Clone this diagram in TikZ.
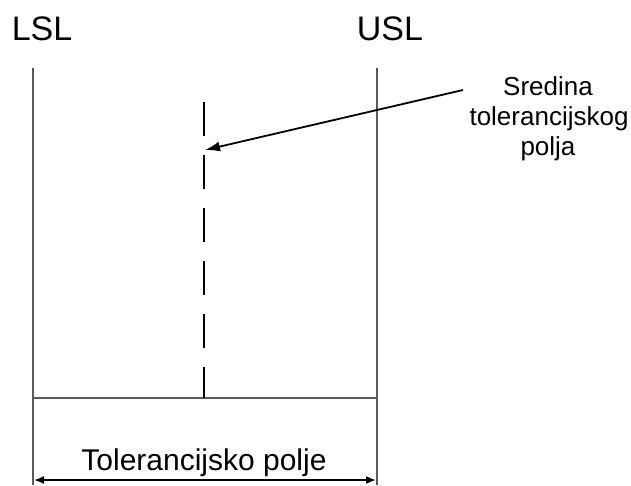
\documentclass[tikz,border=0pt]{standalone}
\usepackage{fontspec}
\setmainfont{Liberation Sans}
\usetikzlibrary{arrows.meta}
\begin{document}
\begin{tikzpicture}[x=1pt,y=-1pt,
  limit/.style={draw=black!65, line width=2pt},
  base/.style={draw=black!65, line width=2pt},
  centerline/.style={draw=black, line width=2pt, dash pattern=on 34pt off 19pt},
  pointer/.style={draw=black, line width=1.8pt, -{Latex[length=15pt,width=10pt]}},
  span/.style={draw=black, line width=1.6pt, {Latex[length=10pt,width=8pt]}-{Latex[length=10pt,width=8pt]}},
  lbl/.style={inner sep=0pt, anchor=base}]
\useasboundingbox (0,0) rectangle (631,485);
% coordinates
\coordinate (lt) at (33,68);
\coordinate (lb) at (33,485);
\coordinate (rt) at (377,68);
\coordinate (rb) at (377,485);
\coordinate (hl) at (33,398);
\coordinate (hr) at (377,398);
\coordinate (ct) at (204,102);
\coordinate (cb) at (204,398);
\coordinate (al) at (34,480);
\coordinate (ar) at (376,480);
\coordinate (ps) at (463,90);
\coordinate (pe) at (205,150);
% labels
\node[lbl, font=\fontsize{34}{40}\selectfont] (lsl) at (42,40) {LSL};
\node[lbl, font=\fontsize{34}{40}\selectfont] (usl) at (390,40) {USL};
\node[lbl, font=\fontsize{26}{30}\selectfont] (t1) at (548,95) {Sredina};
\node[lbl, font=\fontsize{26}{30}\selectfont] (t2) at (549,125) {tolerancijskog};
\node[lbl, font=\fontsize{26}{30}\selectfont] (t3) at (548,155) {polja};
\node[lbl, font=\fontsize{30}{36}\selectfont] (tp) at (204,470) {Tolerancijsko polje};
% lines
\draw[limit] (lt) -- (lb);
\draw[limit] (rt) -- (rb);
\draw[base] (hl) -- (hr);
\draw[centerline] (ct) -- (cb);
\draw[pointer] (ps) -- (pe);
\draw[span] (al) -- (ar);
\end{tikzpicture}
\end{document}
